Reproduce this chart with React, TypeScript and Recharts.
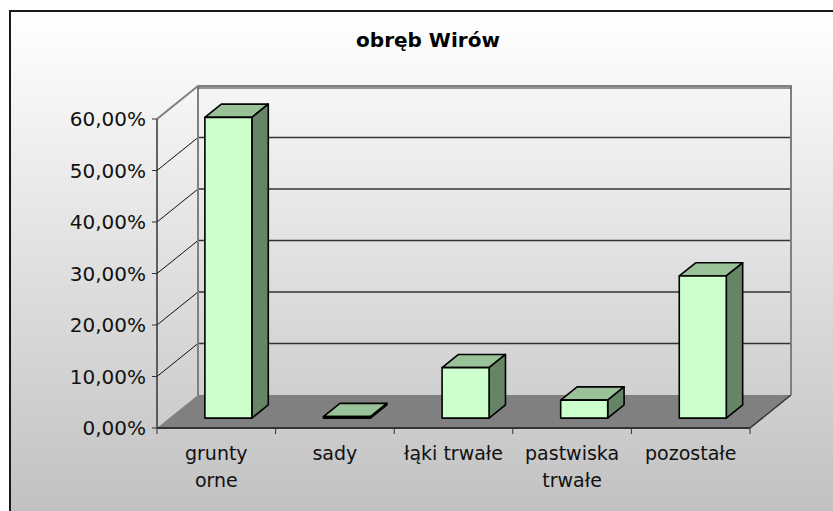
import { BarChart, Bar, XAxis, YAxis, CartesianGrid } from 'recharts';

// land-use shares, obręb Wirów (%)
const categoryLines = [['grunty', 'orne'], ['sady'], ['łąki trwałe'], ['pastwiska', 'trwałe'], ['pozostałe']];
const categories = categoryLines.map((l) => l.join(' '));
const shares = [58.4, 0.3, 9.8, 3.5, 27.6];
const yTicks = [0, 10, 20, 30, 40, 50, 60];

const data = categories.map((name, i) => ({ name, value: shares[i] }));

const W = 833;
const H = 511;
const MARGIN = { top: 119, right: 83, bottom: 20, left: 57 };
const Y_AXIS_W = 100;
const X_AXIS_H = 63;
const PLOT_LEFT = MARGIN.left + Y_AXIS_W;
const PLOT_W = W - PLOT_LEFT - MARGIN.right;
const PLOT_BOTTOM = H - MARGIN.bottom - X_AXIS_H;

// fake 3d projection (excel style)
const DX = 41;
const DY = 33;
const BAR_FRONT = 0.3;
const BAR_DEPTH = 0.4;

const fmt = (v: number) => v.toFixed(2).replace('.', ',') + '%';

function GridLine(props: any) {
  const { x1, y1, x2 } = props;
  const isBottom = Math.abs(y1 - PLOT_BOTTOM) < 1;
  const isTop = Math.abs(y1 - MARGIN.top) < 1;
  const bx1 = x1 + DX;
  const bx2 = x2 + DX;
  const by = y1 - DY;

  if (isBottom) {
    return (
      <g>
        <polygon points={`${x1},${y1} ${bx1},${by} ${bx2},${by} ${x2},${y1}`} fill="#808080" />
        <line x1={x2} y1={y1} x2={bx2} y2={by} stroke="#333" strokeWidth={1.5} />
      </g>
    );
  }
  if (isTop) {
    return (
      <g fill="none" stroke="#808080" strokeWidth={2}>
        <polyline points={`${x1},${y1} ${bx1},${by} ${bx2},${by} ${bx2},${PLOT_BOTTOM - DY}`} />
        <line x1={bx1} y1={by} x2={bx1} y2={PLOT_BOTTOM - DY} />
        <line x1={bx1} y1={by + 2} x2={bx2} y2={by + 2} stroke="#333" strokeWidth={1.2} />
      </g>
    );
  }
  return (
    <g>
      <line x1={x1} y1={y1} x2={bx1} y2={by} stroke="#111" strokeWidth={1} />
      <line x1={bx1} y1={by} x2={bx2} y2={by} stroke="#333" strokeWidth={1.5} />
    </g>
  );
}

function Box3D(props: any) {
  const { x, y, width, height } = props;
  const fx = x + DX * BAR_FRONT;
  const fy = y - DY * BAR_FRONT;
  const bx = DX * BAR_DEPTH;
  const by = DY * BAR_DEPTH;
  const h = Math.max(height, 1);
  return (
    <g stroke="#000" strokeWidth={1.6} strokeLinejoin="round">
      <polygon points={`${fx},${fy} ${fx + bx},${fy - by} ${fx + width + bx},${fy - by} ${fx + width},${fy}`} fill="#99C299" />
      <polygon
        points={`${fx + width},${fy} ${fx + width + bx},${fy - by} ${fx + width + bx},${fy + h - by} ${fx + width},${fy + h}`}
        fill="#668566"
      />
      <rect x={fx} y={fy} width={width} height={h} fill="#CCFFCC" />
    </g>
  );
}

function CategoryTick(props: any) {
  const { x, y, index } = props;
  const band = PLOT_W / categories.length;
  const lines = categoryLines[index] || [];
  return (
    <g>
      <line x1={x - band / 2} y1={y - 6} x2={x - band / 2} y2={y} stroke="#333" />
      {index === categories.length - 1 && <line x1={x + band / 2} y1={y - 6} x2={x + band / 2} y2={y} stroke="#333" />}
      {lines.map((t, i) => (
        <text key={i} x={x} y={y + 26 + i * 27} textAnchor="middle" fill="#111" fontSize={19} fontFamily="'DejaVu Sans', sans-serif">
          {t}
        </text>
      ))}
    </g>
  );
}

export default function App() {
  return (
    <div style={{ position: 'fixed', left: 0, top: 0, width: W, height: H, overflow: 'hidden', background: '#fff' }}>
      <div
        style={{
          position: 'absolute',
          left: 9,
          top: 10,
          width: W,
          height: H,
          borderLeft: '2px solid #1a1a1a',
          borderTop: '2px solid #1a1a1a',
          background: 'linear-gradient(#ffffff, #c0c0c0)',
        }}
      />
      <div
        style={{
          position: 'absolute',
          left: 0,
          top: 28,
          width: 856,
          textAlign: 'center',
          fontFamily: "'DejaVu Sans', sans-serif",
          fontWeight: 'bold',
          fontSize: 20,
          lineHeight: '24px',
          color: '#000',
        }}
      >
        obręb Wirów
      </div>
      <div style={{ position: 'absolute', left: 0, top: 0 }}>
        <BarChart width={W} height={H} data={data} margin={MARGIN} barCategoryGap="30%">
          <CartesianGrid vertical={false} horizontal={(p: any) => <GridLine key={p.key} {...p} />} />
          <XAxis
            dataKey="name"
            height={X_AXIS_H}
            tickLine={false}
            tickSize={6}
            tickMargin={0}
            axisLine={{ stroke: '#333', strokeWidth: 2 }}
            tick={<CategoryTick />}
            interval={0}
          />
          <YAxis
            width={Y_AXIS_W}
            domain={[0, 60]}
            ticks={yTicks}
            tickFormatter={fmt}
            tickSize={5}
            tickMargin={6}
            axisLine={{ stroke: '#333', strokeWidth: 1.5 }}
            tickLine={{ stroke: '#333' }}
            tick={{ fill: '#111', fontSize: 20, fontFamily: "'DejaVu Sans', sans-serif" }}
          />
          <Bar dataKey="value" shape={<Box3D />} isAnimationActive={false} />
        </BarChart>
      </div>
    </div>
  );
}
